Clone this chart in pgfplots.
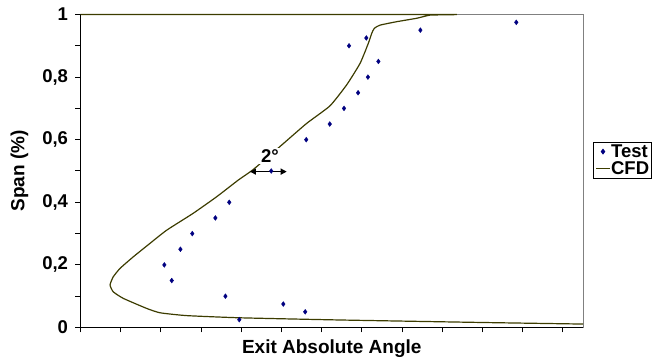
\documentclass[border=0pt]{standalone}
\usepackage{pgfplots}
\pgfplotsset{compat=1.18}
\usepackage{fontspec}
\setmainfont{Liberation Sans}[BoldFont={Liberation Sans Bold}]
\usetikzlibrary{arrows.meta}
\definecolor{cfdcol}{RGB}{60,60,0}
\definecolor{testcol}{RGB}{0,0,128}
\newcommand{\lbl}{\bfseries\fontsize{19bp}{22bp}\selectfont}
\newcommand{\tlbl}{\bfseries\fontsize{18.5bp}{21bp}\selectfont}
\newcommand{\leglbl}{\bfseries\fontsize{18.5bp}{20bp}\selectfont}
\begin{document}
\begin{tikzpicture}
\useasboundingbox (-80.5bp,-31.5bp) rectangle (591.5bp,327.5bp);
\begin{axis}[
  at={(0,0)}, anchor=south west,
  width=502.5bp, height=313bp, scale only axis,
  xmin=0, xmax=25, ymin=0, ymax=1,
  clip=false,
  axis x line*=bottom, axis y line*=left,
  axis line style={black, line width=1.3bp},
  xtick={0,2,...,24}, xticklabels={},
  ytick={0,0.2,0.4,0.6,0.8,1},
  yticklabels={0,{0,2},{0,4},{0,6},{0,8},1},
  minor ytick={0.1,0.3,0.5,0.7,0.9},
  tick align=outside,
  major tick length=5bp, minor tick length=5bp,
  tick style={black, line width=1bp},
  tick label style={font=\tlbl},
  yticklabel style={xshift=-4bp},
  xlabel={Exit Absolute Angle},
  ylabel={Span (\%)},
  label style={font=\lbl},
  xlabel style={at={(axis description cs:0.5,0)}, anchor=base, yshift=-25.8bp},
  ylabel style={at={(axis description cs:-0.1214,0.5)}, anchor=center},
  legend style={at={(rel axis cs:1,0.535)}, anchor=west, xshift=10bp,
    draw=black, line width=0.8bp, font=\leglbl, inner sep=2bp,
    nodes={inner sep=0.5bp}, row sep=1.5bp, cells={anchor=west}},
  legend cell align=left,
  legend image code/.code={\draw[mark repeat=2,mark phase=2,#1] plot coordinates {(0bp,0bp) (7bp,0bp) (14bp,0bp)};},
]
\draw[gray, line width=0.8bp] (rel axis cs:0,1) -- (rel axis cs:1,1) -- (rel axis cs:1,0);
\addplot[only marks, mark=diamond*, mark size=2.4bp, color=testcol] coordinates {
(21.68,0.975) (16.91,0.95) (14.22,0.925) (13.36,0.9) (14.82,0.85) (14.30,0.8)
(13.81,0.75) (13.11,0.7) (12.40,0.65) (11.23,0.6) (9.49,0.5) (7.40,0.4)
(6.71,0.35) (5.56,0.3) (4.97,0.25) (4.17,0.2) (4.54,0.15) (7.21,0.1)
(10.09,0.075) (11.18,0.05) (7.90,0.025)
};
\addlegendentry{Test}
\addplot[cfdcol, line width=1.2bp, smooth, tension=0.3] coordinates {
(25,0.011) (20,0.016) (12.91,0.024) (7.93,0.031) (5.28,0.038) (3.96,0.047)
(3.29,0.061) (2.13,0.093) (1.63,0.114) (1.47,0.136) (1.63,0.162) (1.97,0.189)
(2.63,0.226) (3.46,0.269) (4.29,0.311) (5.61,0.365) (6.78,0.418) (7.85,0.471)
(8.60,0.505) (10.01,0.583) (11.25,0.652) (12.41,0.708) (13.24,0.775) (13.91,0.844)
(14.32,0.908) (14.49,0.940) (14.62,0.956) (14.90,0.966) (15.73,0.977) (16.73,0.988)
(17.39,0.998) (18.22,1.0) (0,1.0)
};
\addlegendentry{CFD}
\node[fill=white, inner sep=2bp, font=\tlbl] at (axis cs:9.43,0.548) {2°};
\draw[{Triangle[length=6bp,width=6bp]}-{Triangle[length=6bp,width=6bp]}, black, line width=1.3bp] (axis cs:8.43,0.498) -- (axis cs:10.26,0.498);
\end{axis}
\end{tikzpicture}
\end{document}
